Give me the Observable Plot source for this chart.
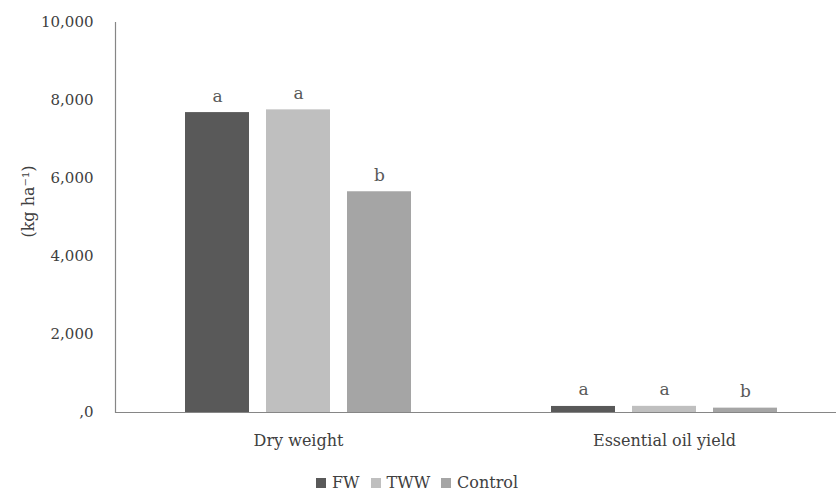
<!DOCTYPE html>
<html>
<head>
<meta charset="utf-8">
<script src="https://cdn.jsdelivr.net/npm/d3@7"></script>
<script src="https://cdn.jsdelivr.net/npm/@observablehq/plot@0.6"></script>
<style>
  body { margin: 0; background: #fff; font-family: "DejaVu Serif", serif; }
  #wrap { position: relative; width: 836px; height: 492px; overflow: hidden; }
  #legend { position: absolute; top: 473px; left: 316px; display: flex; align-items: center; font-size: 16px; color: #404040; }
  #legend .item { display: flex; align-items: center; margin-right: 11px; }
  #legend .sw { width: 10px; height: 10px; margin-right: 6px; }
</style>
</head>
<body>
<div id="wrap"><div id="chart"></div><div id="legend"></div></div>
<script>
const groups = ["Dry weight", "Essential oil yield"];
const series = ["FW", "TWW", "Control"];
const colors = ["#595959", "#bfbfbf", "#a5a5a5"];
const dryWeight = [7690, 7760, 5660];
const oilYield = [155, 158, 112];
const dryLetters = ["a", "a", "b"];
const oilLetters = ["a", "a", "b"];
const yTicks = [0, 2000, 4000, 6000, 8000, 10000];
const yTickLabels = [",0", "2,000", "4,000", "6,000", "8,000", "10,000"];
const yLabel = "(kg ha⁻¹)";

const rows = [];
series.forEach((s, i) => rows.push({group: groups[0], series: s, value: dryWeight[i], letter: dryLetters[i]}));
series.forEach((s, i) => rows.push({group: groups[1], series: s, value: oilYield[i], letter: oilLetters[i]}));

const axisColor = "#868686";
const chart = Plot.plot({
  width: 836,
  height: 460,
  marginLeft: 114,
  marginRight: 0,
  marginTop: 22,
  marginBottom: 48,
  style: {fontFamily: "DejaVu Serif", fontSize: "15px", color: "#404040", overflow: "visible", background: "#fff"},
  fx: {domain: groups, range: [114, 847], paddingInner: 0, paddingOuter: 0, label: null},
  x: {domain: series, paddingInner: 0.215, paddingOuter: 0.856, axis: null},
  y: {domain: [0, 10000]},
  color: {domain: series, range: colors},
  marks: [
    Plot.barY(rows, {fx: "group", x: "series", y: "value", fill: "series"}),
    Plot.text(rows, {fx: "group", x: "series", y: "value", text: "letter", dy: -11, lineAnchor: "bottom", fill: "#595959", fontSize: 17}),
    Plot.ruleY([0], {stroke: axisColor, strokeWidth: 1.2}),
    Plot.axisY({ticks: yTicks, tickSize: 0, tickPadding: 22, tickFormat: (d, i) => yTickLabels[yTicks.indexOf(d)], label: null, fontSize: 15, fill: "#404040"}),
    Plot.text([yLabel], {frameAnchor: "left", facetAnchor: "left", textAnchor: "middle", rotate: -90, dx: -87, dy: -16, fontSize: 16, fill: "#404040"}),
    Plot.axisFx({anchor: "bottom", tickSize: 0, tickPadding: 22, label: null, fontSize: 16, fill: "#404040"}),
    Plot.frame({anchor: "left", facetAnchor: "left", stroke: axisColor, strokeWidth: 1.2})
  ]
});
document.getElementById("chart").appendChild(chart);

const legend = document.getElementById("legend");
series.forEach((s, i) => {
  const item = document.createElement("div");
  item.className = "item";
  const sw = document.createElement("div");
  sw.className = "sw";
  sw.style.background = colors[i];
  const t = document.createElement("span");
  t.textContent = s;
  item.appendChild(sw);
  item.appendChild(t);
  legend.appendChild(item);
});
</script>
</body>
</html>
